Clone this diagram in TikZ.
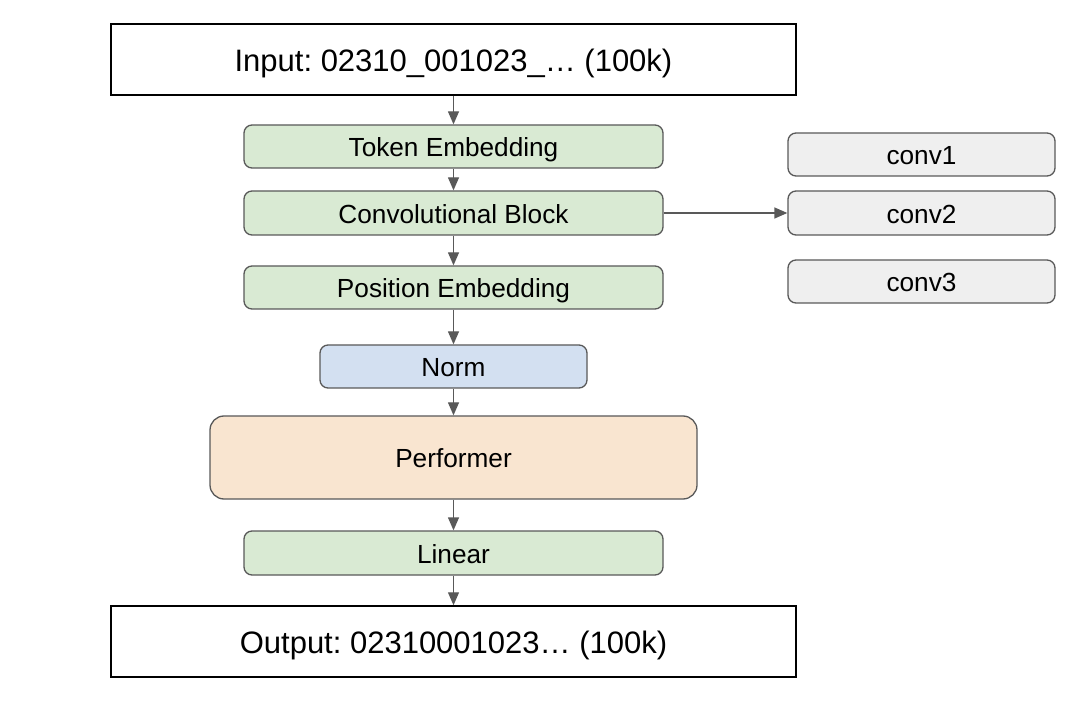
\documentclass[tikz,border=0pt]{standalone}
\usepackage{fontspec}
\setmainfont{Liberation Sans}
\frenchspacing
\usetikzlibrary{arrows.meta}
\definecolor{bgreen}{HTML}{D9EAD3}
\definecolor{bblue}{HTML}{D3E0F1}
\definecolor{borange}{HTML}{F9E5D0}
\definecolor{bgray}{HTML}{EFEFEF}
\definecolor{edge}{HTML}{595959}
\tikzset{
  iobox/.style={draw=black, line width=1.5pt, fill=white, inner sep=0pt, text height=26pt, text depth=2pt, font=\fontsize{31}{36}\selectfont},
  blk/.style={draw=edge, line width=1.3pt, rounded corners=8pt, inner sep=0pt, text height=22pt, text depth=1.8pt, font=\fontsize{26.2}{30}\selectfont},
  arr/.style={draw=edge, line width=1.3pt, -{Triangle[length=13pt,width=11pt]}}
}
\begin{document}
\begin{tikzpicture}[x=1pt,y=-1pt]
\useasboundingbox (0,0) rectangle (1090,708);
\node[iobox, minimum width=685pt, minimum height=71pt] (in) at (453.5,59.5) {Input: 02310\_001023\_… (100k)};
\node[blk, fill=bgreen, minimum width=419pt, minimum height=43pt] (tok) at (453.5,146.5) {Token Embedding};
\node[blk, fill=bgreen, minimum width=419pt, minimum height=44pt] (conv) at (453.5,213) {Convolutional Block};
\node[blk, fill=bgreen, minimum width=419pt, minimum height=43pt] (pos) at (453.5,287.5) {Position Embedding};
\node[blk, fill=bblue, minimum width=267pt, minimum height=43pt] (norm) at (453.5,366.5) {Norm};
\node[blk, fill=borange, rounded corners=14pt, minimum width=487pt, minimum height=83pt] (perf) at (453.5,457.5) {Performer};
\node[blk, fill=bgreen, minimum width=419pt, minimum height=44pt] (lin) at (453.5,553) {Linear};
\node[iobox, minimum width=685pt, minimum height=71pt] (out) at (453.5,641.5) {Output: 02310001023… (100k)};
\node[blk, fill=bgray, minimum width=267pt, minimum height=43pt] (c1) at (921.5,154.5) {conv1};
\node[blk, fill=bgray, minimum width=267pt, minimum height=44pt] (c2) at (921.5,213) {conv2};
\node[blk, fill=bgray, minimum width=267pt, minimum height=43pt] (c3) at (921.5,281.5) {conv3};
\draw[arr] (in) -- (tok);
\draw[arr] (tok) -- (conv);
\draw[arr] (conv) -- (pos);
\draw[arr] (pos) -- (norm);
\draw[arr] (norm) -- (perf);
\draw[arr] (perf) -- (lin);
\draw[arr] (lin) -- (out);
\draw[arr] (conv) -- (c2);
\end{tikzpicture}
\end{document}
